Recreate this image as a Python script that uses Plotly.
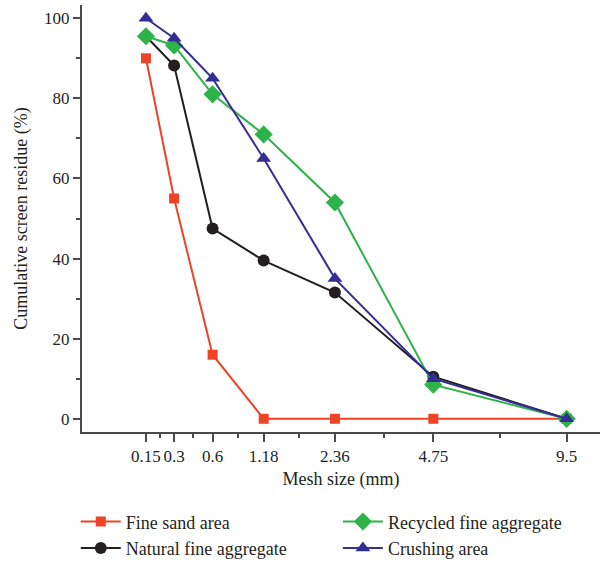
import plotly.graph_objects as go

mesh_sizes = [0.15, 0.3, 0.6, 1.18, 2.36, 4.75, 9.5]
tick_labels = ["0.15", "0.3", "0.6", "1.18", "2.36", "4.75", "9.5"]

fine_sand_area = [90, 55, 16, 0, 0, 0, 0]
natural_fine_aggregate = [95.5, 88.2, 47.5, 39.5, 31.5, 10.5, 0]
recycled_fine_aggregate = [95.5, 93.2, 81, 71, 54, 8.5, 0]
crushing_area = [100, 95, 85, 65, 35, 10, 0]

P = 0.45  # power scale used by the original x axis


def tr(v):
    return v ** P


xt = [tr(m) for m in mesh_sizes]
minor_vals = [(xt[i] + xt[i + 1]) / 2 for i in range(len(xt) - 1)]

FONT = "Liberation Serif"
AX = "#4a4a4a"

series = [
    ("Fine sand area", fine_sand_area, "#EE4327", "square", 10, "legend"),
    ("Natural fine aggregate", natural_fine_aggregate, "#231F20", "circle", 12, "legend"),
    ("Recycled fine aggregate", recycled_fine_aggregate, "#2DB34A", "diamond", 14, "legend2"),
    ("Crushing area", crushing_area, "#332D94", "triangle-up", 13, "legend2"),
]

fig = go.Figure()
for name, ys, color, sym, size, lg in series:
    fig.add_trace(go.Scatter(
        x=xt, y=ys, name=name, mode="lines+markers",
        line=dict(color=color, width=2),
        marker=dict(symbol=sym, size=size, color=color),
        legend=lg,
    ))

leg_common = dict(
    orientation="v", yanchor="top", y=-0.167, xanchor="left",
    font=dict(family=FONT, size=18), itemwidth=40,
    bgcolor="rgba(0,0,0,0)", traceorder="normal", tracegroupgap=0,
)

fig.update_layout(
    width=601, height=562,
    margin=dict(l=82, r=1, t=5, b=130, autoexpand=False),
    paper_bgcolor="white", plot_bgcolor="white",
    font=dict(family=FONT, size=16, color="#231F20"),
    showlegend=True,
    legend=dict(x=-0.012, **leg_common),
    legend2=dict(x=0.494, **leg_common),
)

fig.update_xaxes(
    range=[(82 - 69) / 180.7, (600 - 69) / 180.7],
    tickmode="array", tickvals=xt, ticktext=tick_labels,
    ticks="outside", ticklen=8, tickwidth=2, tickcolor=AX,
    showline=True, linecolor=AX, linewidth=2,
    showgrid=False, zeroline=False,
    minor=dict(tickmode="array", tickvals=minor_vals, ticks="outside",
               ticklen=4, tickwidth=2, tickcolor=AX, showgrid=False),
    title=dict(text="Mesh size (mm)", font=dict(family=FONT, size=18), standoff=7),
    tickfont=dict(family=FONT, size=17),
)
fig.update_yaxes(
    range=[-3.3, 103.3],
    tickmode="array", tickvals=[0, 20, 40, 60, 80, 100],
    ticks="outside", ticklen=7, tickwidth=2, tickcolor=AX,
    showline=True, linecolor=AX, linewidth=2,
    showgrid=False, zeroline=False,
    minor=dict(tickmode="array", tickvals=[10, 30, 50, 70, 90], ticks="outside",
               ticklen=4, tickwidth=2, tickcolor=AX, showgrid=False),
    title=dict(text="Cumulative screen residue (%)", font=dict(family=FONT, size=18), standoff=12),
    tickfont=dict(family=FONT, size=17),
)

fig.write_html("out.html")
